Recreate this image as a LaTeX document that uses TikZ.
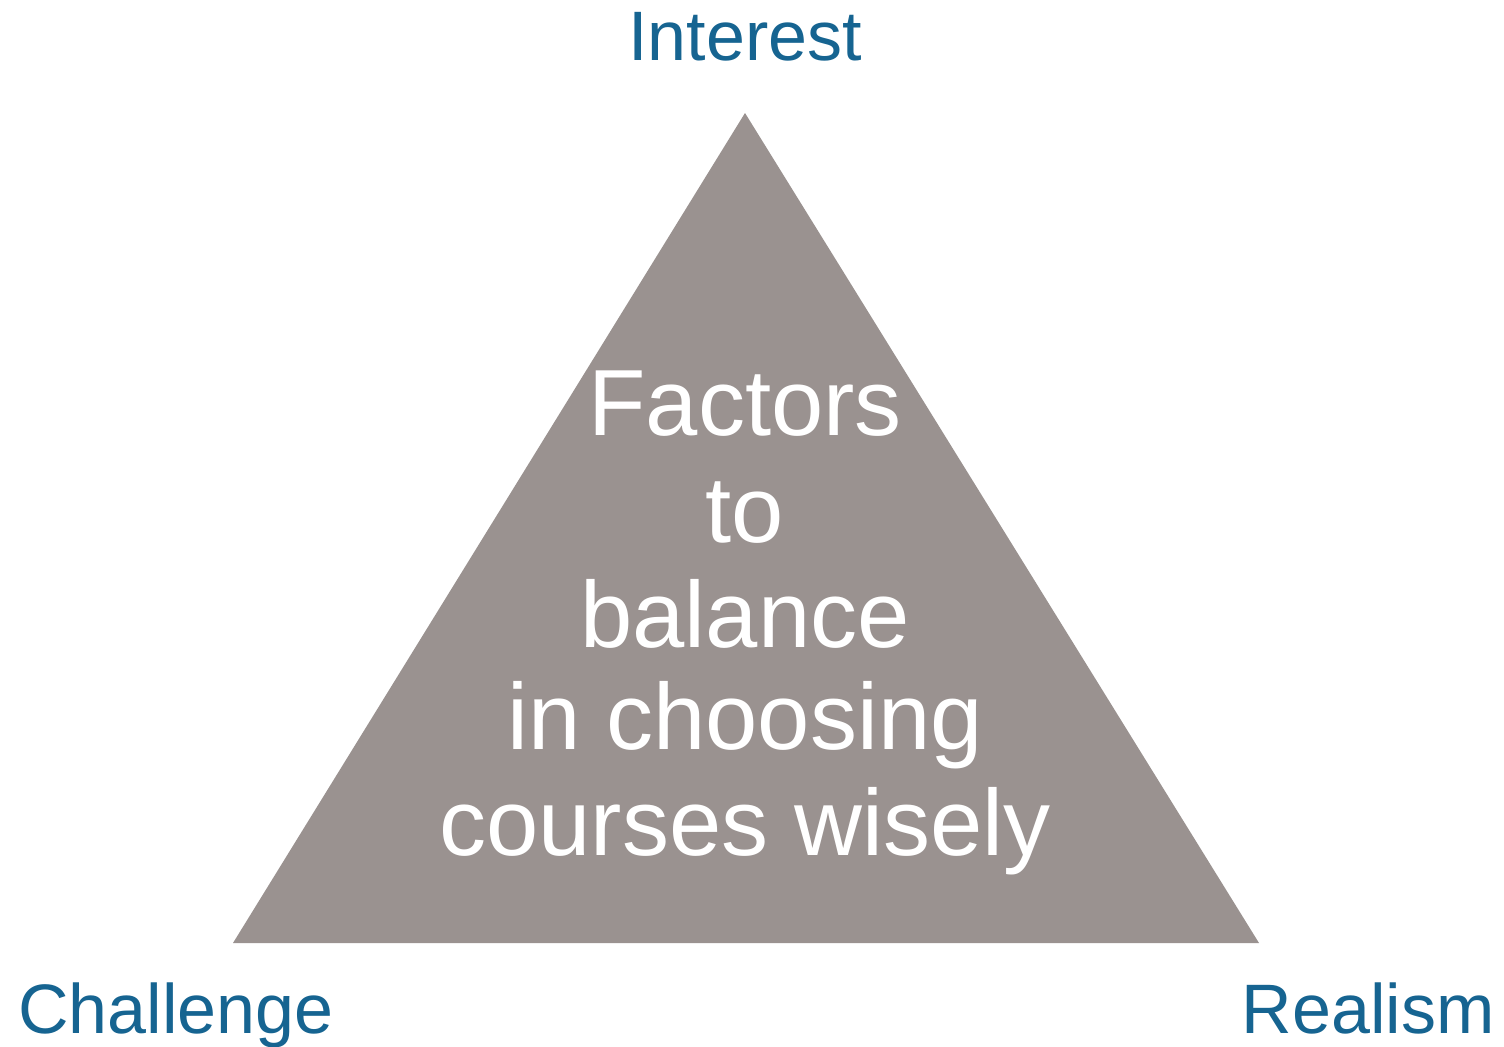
\documentclass[tikz,border=0pt]{standalone}
\usepackage{fontspec}
\setmainfont{Liberation Sans}
\definecolor{trigray}{RGB}{154,146,144}
\definecolor{labelblue}{RGB}{22,100,145}
\begin{document}
\begin{tikzpicture}[x=0.5pt,y=-0.5pt,
  corner/.style={text=labelblue,font=\fontsize{35}{42}\selectfont,inner sep=0pt},
  inside/.style={text=white,font=\fontsize{47}{52}\selectfont,inner sep=0pt,anchor=base}]
\useasboundingbox[fill=white] (0,0) rectangle (1504,1046);
\coordinate (apex) at (745,113);
\coordinate (bl) at (233,943);
\coordinate (br) at (1259,943);
\fill[trigray] (apex) -- (bl) -- (br) -- cycle;
\node[corner,anchor=base] (interest) at (745,60) {Interest};
\node[corner,anchor=base west] (challenge) at (18,1033) {Challenge};
\node[corner,anchor=base east] (realism) at (1495,1033) {Realism};
\node[inside] (l1) at (745,435) {Factors};
\node[inside] (l2) at (745,542) {to};
\node[inside] (l3) at (745,647) {balance};
\node[inside] (l4) at (745,749) {in choosing};
\node[inside] (l5) at (745,855) {courses wisely};
\end{tikzpicture}
\end{document}
